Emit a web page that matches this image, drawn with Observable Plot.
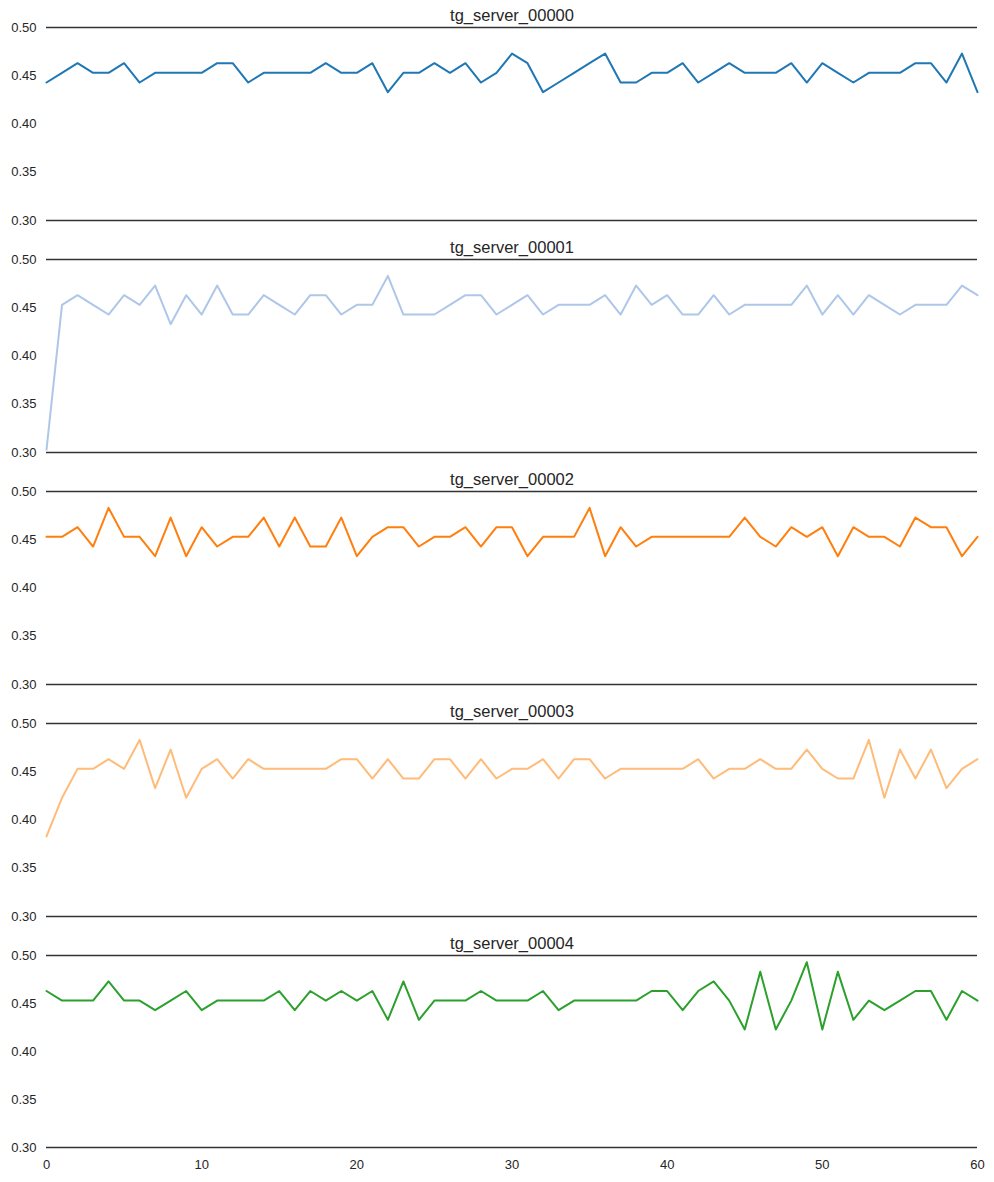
<!DOCTYPE html>
<html>
<head>
<meta charset="utf-8">
<script src="https://cdn.jsdelivr.net/npm/d3@7"></script>
<script src="https://cdn.jsdelivr.net/npm/@observablehq/plot@0.6"></script>
<style>
  html, body { margin: 0; padding: 0; background: #fff; }
  #chart svg { display: block; }
</style>
</head>
<body>
<div id="chart"></div>
<script>
const seriesNames = ["tg_server_00000", "tg_server_00001", "tg_server_00002", "tg_server_00003", "tg_server_00004"];
const seriesColors = ["#1f77b4", "#aec7e8", "#ff7f0e", "#ffbb78", "#2ca02c"];
const yTicks = [0.30, 0.35, 0.40, 0.45, 0.50];
const xTicks = [0, 10, 20, 30, 40, 50, 60];

const server00000 = [
  0.443, 0.453, 0.463, 0.453, 0.453, 0.463, 0.443, 0.453, 0.453, 0.453,
  0.453, 0.463, 0.463, 0.443, 0.453, 0.453, 0.453, 0.453, 0.463, 0.453,
  0.453, 0.463, 0.433, 0.453, 0.453, 0.463, 0.453, 0.463, 0.443, 0.453,
  0.473, 0.463, 0.433, 0.443, 0.453, 0.463, 0.473, 0.443, 0.443, 0.453,
  0.453, 0.463, 0.443, 0.453, 0.463, 0.453, 0.453, 0.453, 0.463, 0.443,
  0.463, 0.453, 0.443, 0.453, 0.453, 0.453, 0.463, 0.463, 0.443, 0.473,
  0.433
];
const server00001 = [
  0.303, 0.453, 0.463, 0.453, 0.443, 0.463, 0.453, 0.473, 0.433, 0.463,
  0.443, 0.473, 0.443, 0.443, 0.463, 0.453, 0.443, 0.463, 0.463, 0.443,
  0.453, 0.453, 0.483, 0.443, 0.443, 0.443, 0.453, 0.463, 0.463, 0.443,
  0.453, 0.463, 0.443, 0.453, 0.453, 0.453, 0.463, 0.443, 0.473, 0.453,
  0.463, 0.443, 0.443, 0.463, 0.443, 0.453, 0.453, 0.453, 0.453, 0.473,
  0.443, 0.463, 0.443, 0.463, 0.453, 0.443, 0.453, 0.453, 0.453, 0.473,
  0.463
];
const server00002 = [
  0.453, 0.453, 0.463, 0.443, 0.483, 0.453, 0.453, 0.433, 0.473, 0.433,
  0.463, 0.443, 0.453, 0.453, 0.473, 0.443, 0.473, 0.443, 0.443, 0.473,
  0.433, 0.453, 0.463, 0.463, 0.443, 0.453, 0.453, 0.463, 0.443, 0.463,
  0.463, 0.433, 0.453, 0.453, 0.453, 0.483, 0.433, 0.463, 0.443, 0.453,
  0.453, 0.453, 0.453, 0.453, 0.453, 0.473, 0.453, 0.443, 0.463, 0.453,
  0.463, 0.433, 0.463, 0.453, 0.453, 0.443, 0.473, 0.463, 0.463, 0.433,
  0.453
];
const server00003 = [
  0.383, 0.423, 0.453, 0.453, 0.463, 0.453, 0.483, 0.433, 0.473, 0.423,
  0.453, 0.463, 0.443, 0.463, 0.453, 0.453, 0.453, 0.453, 0.453, 0.463,
  0.463, 0.443, 0.463, 0.443, 0.443, 0.463, 0.463, 0.443, 0.463, 0.443,
  0.453, 0.453, 0.463, 0.443, 0.463, 0.463, 0.443, 0.453, 0.453, 0.453,
  0.453, 0.453, 0.463, 0.443, 0.453, 0.453, 0.463, 0.453, 0.453, 0.473,
  0.453, 0.443, 0.443, 0.483, 0.423, 0.473, 0.443, 0.473, 0.433, 0.453,
  0.463
];
const server00004 = [
  0.463, 0.453, 0.453, 0.453, 0.473, 0.453, 0.453, 0.443, 0.453, 0.463,
  0.443, 0.453, 0.453, 0.453, 0.453, 0.463, 0.443, 0.463, 0.453, 0.463,
  0.453, 0.463, 0.433, 0.473, 0.433, 0.453, 0.453, 0.453, 0.463, 0.453,
  0.453, 0.453, 0.463, 0.443, 0.453, 0.453, 0.453, 0.453, 0.453, 0.463,
  0.463, 0.443, 0.463, 0.473, 0.453, 0.423, 0.483, 0.423, 0.453, 0.493,
  0.423, 0.483, 0.433, 0.453, 0.443, 0.453, 0.463, 0.463, 0.433, 0.463,
  0.453
];
const seriesValues = [server00000, server00001, server00002, server00003, server00004];

const FONT = "'Liberation Sans', Arial, sans-serif";
const TEXT = "#262626";
const SPINE = "#333333";

const root = document.getElementById("chart");
seriesValues.forEach((vals, k) => {
  const last = k === seriesValues.length - 1;
  const plot = Plot.plot({
    width: 994,
    height: last ? 254 : 232,
    marginTop: 27,
    marginBottom: last ? 35 : 12,
    marginLeft: 46,
    marginRight: 17,
    style: { fontFamily: FONT, fontSize: "13px", color: TEXT, background: "white", overflow: "visible" },
    x: { domain: [0, 60] },
    y: { domain: [0.30, 0.50] },
    marks: [
      Plot.ruleY([0.30, 0.50], { stroke: SPINE, strokeWidth: 1.6 }),
      Plot.line(vals, { x: (d, i) => i, y: d => d, stroke: seriesColors[k], strokeWidth: 2 }),
      Plot.axisY(yTicks, { tickSize: 0, tickPadding: 10, tickFormat: d3.format(".2f"), fontSize: 13, fill: TEXT, label: null }),
      last
        ? Plot.axisX(xTicks, { tickSize: 0, tickPadding: 12, fontSize: 13, fill: TEXT, label: null })
        : Plot.axisX([], { label: null }),
      Plot.text([seriesNames[k]], { frameAnchor: "top", lineAnchor: "bottom", text: d => d, dy: -7, fontSize: 16.5, fill: TEXT })
    ]
  });
  root.appendChild(plot);
});
</script>
</body>
</html>
